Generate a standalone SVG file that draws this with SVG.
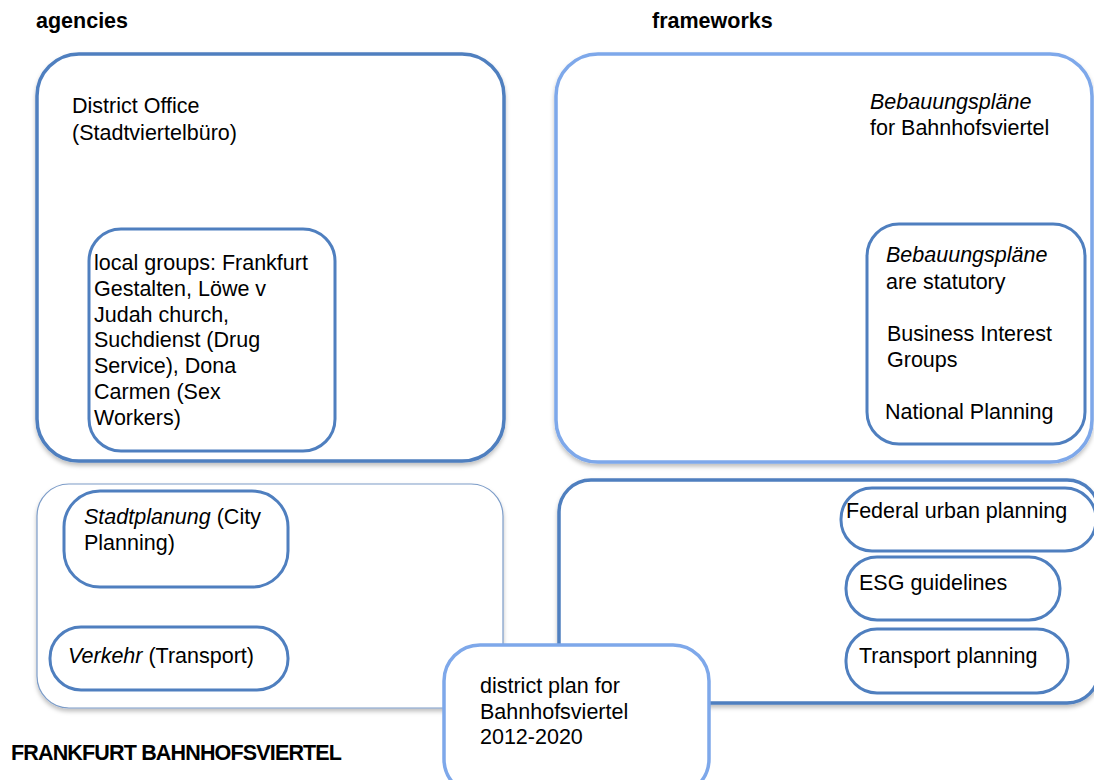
<svg xmlns="http://www.w3.org/2000/svg" width="1094" height="780" viewBox="0 0 1094 780">
<defs>
<filter id="sh" x="-5%" y="-5%" width="110%" height="115%">
<feDropShadow dx="0" dy="3" stdDeviation="2" flood-color="#000" flood-opacity="0.25"/>
</filter>
<style>
text{font-family:"Liberation Sans",Arial,sans-serif;font-size:21.5px;fill:#000}
.h{font-weight:bold}
.i{font-style:italic}
.dk{fill:#fff;stroke:#4f7fbf;stroke-width:3.5}
.lt{fill:#fff;stroke:#7ea8ea;stroke-width:3.5}
.in{fill:#fff;stroke:#4f7fbf;stroke-width:3}
.th{fill:#fff;stroke:#7c9cc8;stroke-width:1.2}
</style>
</defs>
<g id="titles">
<text class="h" x="36" y="28">agencies</text>
<text class="h" x="652" y="28">frameworks</text>
<text class="h" x="11" y="760" font-size="20" textLength="331">FRANKFURT BAHNHOFSVIERTEL</text>
</g>
<g id="agencies-box">
<rect class="dk" x="37" y="54" width="467" height="407" rx="42" filter="url(#sh)"/>
<text x="72" y="113">District Office</text>
<text x="72" y="140">(Stadtviertelbüro)</text>
</g>
<g id="local-groups">
<rect class="in" x="89" y="229" width="246" height="222" rx="32"/>
<text x="94" y="270">local groups: Frankfurt</text>
<text x="94" y="296">Gestalten, Löwe v</text>
<text x="94" y="322">Judah church,</text>
<text x="94" y="347">Suchdienst (Drug</text>
<text x="94" y="373">Service), Dona</text>
<text x="94" y="399">Carmen (Sex</text>
<text x="94" y="425">Workers)</text>
</g>
<g id="frameworks-box">
<rect class="lt" x="556" y="54" width="536" height="408" rx="42" filter="url(#sh)"/>
<text class="i" x="870" y="109">Bebauungspläne</text>
<text x="870" y="135">for Bahnhofsviertel</text>
</g>
<g id="statutory">
<rect class="in" x="867" y="224" width="218" height="220" rx="32"/>
<text class="i" x="886" y="262">Bebauungspläne</text>
<text x="886" y="289">are statutory</text>
<text x="887" y="341">Business Interest</text>
<text x="887" y="367">Groups</text>
<text x="885" y="419">National Planning</text>
</g>
<g id="city-box">
<rect class="th" x="37" y="484" width="466" height="224" rx="32" filter="url(#sh)"/>
</g>
<g id="stadtplanung">
<rect class="in" x="64" y="491" width="224" height="96" rx="36"/>
<text x="84" y="524"><tspan class="i">Stadtplanung</tspan> (City</text>
<text x="84" y="550">Planning)</text>
</g>
<g id="verkehr">
<rect class="in" x="50" y="627" width="238" height="63" rx="31"/>
<text x="68" y="663"><tspan class="i">Verkehr</tspan> (Transport)</text>
</g>
<g id="planning-box">
<rect class="dk" x="559" y="480" width="540" height="223" rx="32" filter="url(#sh)"/>
</g>
<g id="federal">
<rect class="in" x="841" y="488" width="255" height="63" rx="31"/>
<text x="846" y="518">Federal urban planning</text>
</g>
<g id="esg">
<rect class="in" x="846" y="557" width="214" height="63" rx="31"/>
<text x="859" y="590">ESG guidelines</text>
</g>
<g id="transport">
<rect class="in" x="846" y="629" width="222" height="64" rx="31"/>
<text x="859" y="663">Transport planning</text>
</g>
<g id="connectors"></g>
<g id="district-plan">
<rect class="lt" x="444" y="645" width="265" height="150" rx="36"/>
<text x="480" y="693">district plan for</text>
<text x="480" y="719">Bahnhofsviertel</text>
<text x="480" y="744">2012-2020</text>
</g>
</svg>
